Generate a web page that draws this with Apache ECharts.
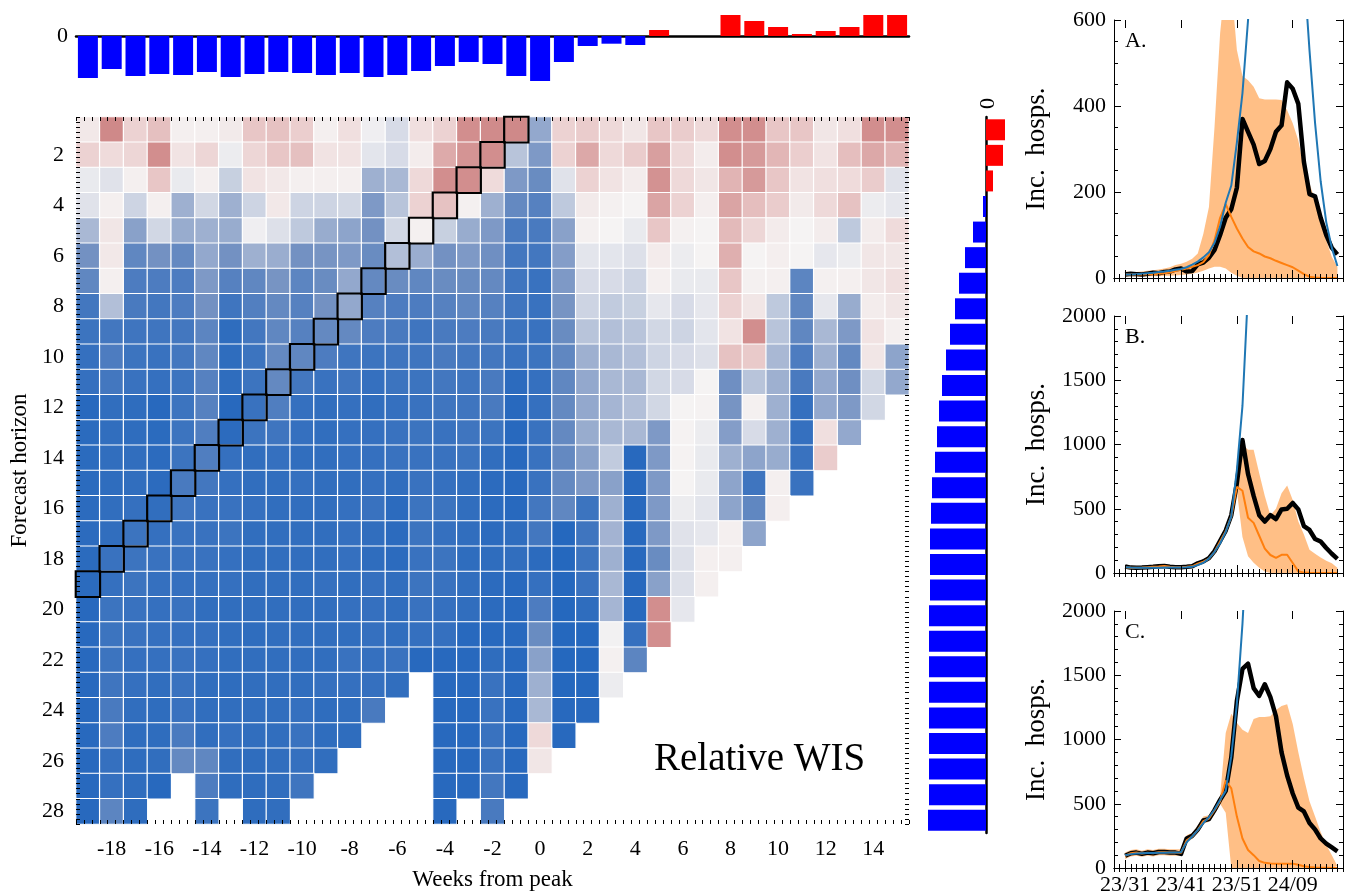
<!DOCTYPE html>
<html>
<head>
<meta charset="utf-8">
<script src="https://cdn.jsdelivr.net/npm/echarts@6.0.0/dist/echarts.min.js"></script>
<style>html,body{margin:0;padding:0;background:#fff}#main{width:1346px;height:896px}</style>
</head>
<body>
<div id="main"></div>
<script>
var chart = echarts.init(document.getElementById('main'));
var serif = "'Liberation Serif', 'Times New Roman', serif";

// weeks from peak (columns) and forecast horizons (rows)
var weekCats = ['-19','-18','-17','-16','-15','-14','-13','-12','-11','-10','-9','-8','-7','-6','-5','-4','-3','-2','-1',
  '0','1','2','3','4','5','6','7','8','9','10','11','12','13','14','15'];
var horizonCats = ['1','2','3','4','5','6','7','8','9','10','11','12','13','14','15','16','17','18','19','20',
  '21','22','23','24','25','26','27','28'];

// relative WIS (log scale, clipped to [-1, 1]); one row per horizon, columns -19..15
var wis = [
  [0.08,0.9,0.25,0.4,0.03,0.03,0.07,0.35,0.38,0.28,0.03,0.15,-0.02,-0.1,0.15,0.25, 0.85,0.88,0.9,-0.35,0.25,0.3,0.2,0.1,0.35,0.3,0.2,0.85,0.85,0.35,0.35,0.1,0.15,0.85,0.85],
  [0.25,0.18,0.22,0.85,0.12,0.22,-0.03,0.22,0.35,0.4,0.12,0.12,-0.06,-0.1,0.05,0.6, 0.8,0.85,-0.2,-0.45,0.25,0.62,0.2,0.3,0.7,0.2,0.05,0.85,0.75,0.48,0.28,0.12,0.42,0.62,0.5],
  [-0.04,-0.07,0.03,0.35,-0.04,0.03,-0.15,0.12,0.08,0.03,0.03,0.03,-0.3,-0.25,0.2,0.85, 0.85,0.18,-0.45,-0.55,-0.07,0.25,0.12,0.05,0.82,0.2,0.1,0.5,0.75,0.35,0.12,0.15,0.18,0.3,-0.07],
  [-0.07,0.03,-0.13,0.03,-0.3,-0.12,-0.3,-0.13,0.08,-0.13,-0.13,-0.12,-0.45,-0.2,0.25,0.38, 0.02,-0.3,-0.58,-0.65,-0.18,0.07,0.02,0.0,0.65,0.25,0.04,0.65,0.42,0.3,0.07,0.2,0.38,-0.03,-0.05],
  [-0.25,0.1,-0.4,-0.12,-0.33,-0.3,-0.33,-0.02,-0.08,-0.18,-0.33,-0.38,-0.5,-0.12,0.02,-0.15, -0.33,-0.45,-0.72,-0.72,-0.4,0.02,0.0,-0.04,0.35,0.02,0.0,0.45,0.22,0.06,0.0,0.05,-0.18,0.05,0.18],
  [-0.5,0.08,-0.6,-0.5,-0.58,-0.35,-0.5,-0.3,-0.32,-0.5,-0.48,-0.45,-0.55,-0.22,-0.32,-0.5, -0.45,-0.52,-0.75,-0.75,-0.42,-0.06,-0.06,-0.08,0.06,-0.03,0.0,0.55,0.0,0.04,0.0,-0.05,-0.03,0.1,0.1],
  [-0.6,0.03,-0.7,-0.7,-0.7,-0.45,-0.65,-0.6,-0.48,-0.62,-0.55,-0.35,-0.58,-0.55,-0.6,-0.55, -0.55,-0.58,-0.78,-0.82,-0.45,-0.1,-0.1,-0.13,0.03,-0.04,-0.04,0.35,0.02,0.03,-0.62,0.02,0.03,0.1,0.15],
  [-0.75,-0.22,-0.72,-0.75,-0.7,-0.5,-0.78,-0.67,-0.58,-0.65,-0.5,-0.35,-0.65,-0.7,-0.7,-0.65, -0.6,-0.65,-0.78,-0.82,-0.48,-0.13,-0.17,-0.15,-0.05,-0.1,-0.05,0.25,0.1,-0.18,-0.6,-0.05,-0.33,0.05,0.1],
  [-0.8,-0.75,-0.78,-0.78,-0.75,-0.62,-0.9,-0.75,-0.6,-0.65,-0.58,-0.58,-0.7,-0.72,-0.78,-0.72, -0.7,-0.72,-0.8,-0.82,-0.55,-0.2,-0.22,-0.2,-0.12,-0.13,-0.06,0.12,0.85,-0.2,-0.6,-0.25,-0.45,0.12,0.03],
  [-0.85,-0.7,-0.8,-0.82,-0.75,-0.6,-0.9,-0.8,-0.58,-0.6,-0.7,-0.78,-0.8,-0.78,-0.78,-0.72, -0.75,-0.75,-0.82,-0.8,-0.6,-0.3,-0.25,-0.22,-0.13,-0.1,-0.08,0.38,0.32,-0.25,-0.7,-0.3,-0.58,0.1,-0.38],
  [-0.85,-0.75,-0.82,-0.85,-0.8,-0.65,-0.9,-0.8,-0.58,-0.75,-0.82,-0.78,-0.85,-0.8,-0.8,-0.75, -0.78,-0.72,-0.92,-0.85,-0.6,-0.35,-0.25,-0.25,-0.12,-0.1,0.0,-0.52,-0.2,-0.3,-0.72,-0.35,-0.52,-0.12,-0.35],
  [-0.95,-0.88,-0.9,-0.95,-0.8,-0.65,-0.95,-0.82,-0.68,-0.85,-0.88,-0.85,-0.88,-0.85,-0.82,-0.78, -0.78,-0.72,-0.95,-0.85,-0.58,-0.35,-0.27,-0.22,-0.12,0.0,0.01,-0.48,0.02,-0.3,-0.85,-0.35,-0.45,-0.12,null],
  [-0.93,-0.88,-0.9,-0.93,-0.8,-0.68,-0.92,-0.8,-0.78,-0.85,-0.88,-0.85,-0.85,-0.82,-0.8,-0.82, -0.78,-0.8,-0.95,-0.82,-0.58,-0.33,-0.25,-0.25,-0.45,0.01,-0.03,-0.42,-0.1,-0.3,-0.85,0.15,-0.35,null,null],
  [-0.93,-0.88,-0.88,-0.92,-0.8,-0.68,-0.85,-0.88,-0.85,-0.88,-0.88,-0.85,-0.85,-0.82,-0.82,-0.82, -0.8,-0.88,-0.95,-0.82,-0.58,-0.4,-0.17,-0.95,-0.45,0.01,-0.04,-0.3,-0.38,-0.33,-0.82,0.3,null,null,null],
  [-0.93,-0.9,-0.88,-0.92,-0.72,-0.75,-0.85,-0.88,-0.88,-0.85,-0.88,-0.88,-0.85,-0.88,-0.82,-0.85, -0.88,-0.92,-0.95,-0.82,-0.58,-0.45,-0.4,-0.95,-0.45,0.0,-0.04,-0.38,-0.78,0.03,-0.82,null,null,null,null],
  [-0.92,-0.88,-0.85,-0.88,-0.78,-0.82,-0.82,-0.85,-0.88,-0.88,-0.88,-0.85,-0.82,-0.92,-0.8,-0.8, -0.88,-0.92,-0.95,-0.75,-0.6,-0.8,-0.3,-0.95,-0.45,-0.03,-0.06,-0.38,-0.6,0.04,null,null,null,null,null],
  [-0.92,-0.88,-0.8,-0.85,-0.82,-0.82,-0.8,-0.88,-0.88,-0.88,-0.88,-0.85,-0.88,-0.92,-0.8,-0.85, -0.88,-0.92,-0.9,-0.75,-0.97,-0.78,-0.28,-0.95,-0.45,-0.07,-0.05,0.03,-0.38,null,null,null,null,null,null],
  [-0.93,-0.82,-0.8,-0.82,-0.82,-0.82,-0.85,-0.88,-0.88,-0.88,-0.88,-0.85,-0.9,-0.92,-0.82,-0.8, -0.9,-0.9,-0.88,-0.92,-0.97,-0.8,-0.3,-0.95,-0.55,-0.08,0.03,0.03,null,null,null,null,null,null,null],
  [-0.93,-0.85,-0.8,-0.85,-0.85,-0.85,-0.85,-0.88,-0.88,-0.88,-0.85,-0.88,-0.85,-0.88,-0.8,-0.82, -0.88,-0.92,-0.95,-0.85,-0.97,-0.82,-0.25,-0.95,-0.4,-0.08,0.03,null,null,null,null,null,null,null,null],
  [-0.95,-0.8,-0.82,-0.85,-0.82,-0.88,-0.88,-0.88,-0.88,-0.88,-0.88,-0.85,-0.85,-0.88,-0.82,-0.85, -0.88,-0.92,-0.95,-0.7,-0.97,-0.9,-0.27,-0.95,0.85,-0.05,null,null,null,null,null,null,null,null,null],
  [-0.95,-0.8,-0.82,-0.85,-0.85,-0.85,-0.88,-0.9,-0.88,-0.88,-0.88,-0.88,-0.85,-0.88,-0.85,-0.85, -0.95,-0.95,-0.95,-0.55,-0.97,-0.97,-0.01,-0.85,0.85,null,null,null,null,null,null,null,null,null,null],
  [-0.95,-0.8,-0.85,-0.85,-0.82,-0.85,-0.88,-0.88,-0.88,-0.88,-0.88,-0.82,-0.85,-0.82,-0.95,-0.95, -0.95,-0.9,-0.95,-0.4,-0.97,-0.97,0.02,-0.62,null,null,null,null,null,null,null,null,null,null,null],
  [-0.95,-0.78,-0.85,-0.88,-0.82,-0.88,-0.9,-0.88,-0.88,-0.88,-0.85,-0.85,-0.85,-0.88,null,-0.95, -0.95,-0.82,-0.95,-0.3,-0.97,-0.97,-0.03,null,null,null,null,null,null,null,null,null,null,null,null],
  [-0.95,-0.72,-0.88,-0.9,-0.82,-0.88,-0.88,-0.88,-0.88,-0.85,-0.9,-0.88,-0.72,null,null,-0.95, -0.95,-0.82,-0.95,-0.25,-0.95,-0.95,null,null,null,null,null,null,null,null,null,null,null,null,null],
  [-0.95,-0.7,-0.9,-0.9,-0.72,-0.88,-0.85,-0.88,-0.88,-0.82,-0.9,-0.9,null,null,null,-0.95, -0.95,-0.82,-0.95,0.2,-0.95,null,null,null,null,null,null,null,null,null,null,null,null,null,null],
  [-0.95,-0.85,-0.9,-0.88,-0.58,-0.6,-0.88,-0.9,-0.88,-0.85,-0.88,null,null,null,null,-0.95, -0.95,-0.82,-0.95,0.1,null,null,null,null,null,null,null,null,null,null,null,null,null,null,null],
  [-0.95,-0.85,-0.9,-0.95,null,-0.7,-0.9,-0.9,-0.88,-0.78,null,null,null,null,null,-0.95, -0.95,-0.75,-0.95,null,null,null,null,null,null,null,null,null,null,null,null,null,null,null,null],
  [-0.95,-0.62,-0.9,null,null,-0.8,null,-0.9,-0.88,null,null,null,null,null,null,-0.95, null,-0.72,null,null,null,null,null,null,null,null,null,null,null,null,null,null,null,null,null]
];

// cells outlined in black: the peak week for each horizon
var peakWeeks = ['-1','-2','-3','-4','-5','-6','-7','-8','-9','-10','-11','-12','-13','-14','-15','-16','-17','-18','-19'];
var peakHorizons = ['1','2','3','4','5','6','7','8','9','10','11','12','13','14','15','16','17','18','19'];

// column and row summaries
var weekScore = [-0.42,-0.33,-0.40,-0.38,-0.39,-0.36,-0.41,-0.38,-0.36,-0.37,-0.39,-0.37,-0.41,-0.39,-0.35,-0.30,-0.26,-0.28,-0.40,
  -0.45,-0.26,-0.10,-0.077,-0.09,0.06,0,0,0.21,0.15,0.09,0.02,0.05,0.09,0.21,0.21];
var horizonScore = [0.19,0.17,0.07,-0.03,-0.13,-0.21,-0.27,-0.31,-0.36,-0.40,-0.44,-0.47,-0.49,-0.51,-0.54,-0.55,
  -0.56,-0.56,-0.56,-0.57,-0.57,-0.57,-0.57,-0.57,-0.57,-0.57,-0.57,-0.58];

// incident hospitalisations, ISO weeks 23/31 .. 24/17 (week index, 53 = 24/01)
var hospWeeks = [31,32,33,34,35,36,37,38,39,40,41,42,43,44,45,46,47,48,49,50,51,52,53,54,55,56,57,58,59,60,61,62,63,64,65,66,67,68,69];

var aObs  = [8,10,9,8,10,12,11,14,15,20,22,15,16,32,36,47,65,100,140,160,210,370,340,310,265,272,300,340,355,455,440,405,270,195,190,140,100,70,55];
var aMed  = [8,8,8,8,9,9,10,11,13,16,19,22,26,30,37,53,88,140,172,142,115,92,72,62,57,50,46,40,35,30,25,17,9,3,1,0,0,0,0];
var aLow  = [4,4,4,4,4,4,4,5,5,6,7,8,10,13,17,22,26,26,22,12,5,0,0,0,0,0,0,0,0,0,0,0,0,0,0,0,0,0,0];
var aHigh = [15,14,14,15,17,18,20,22,25,30,33,38,45,57,103,165,352,569,700,680,530,470,460,445,418,415,415,415,414,390,360,320,258,220,181,127,88,49,26];
var aFit  = [8,8,9,10,11,12,14,15,17,19,21,25,31,38,48,60,82,120,175,215,315,430,600,850,1100,1300,1450,1500,1450,1300,1100,900,720,530,360,225,130,70,28];

var bObs  = [50,42,40,42,45,48,52,55,48,45,45,48,52,75,90,116,170,250,330,450,700,1035,770,600,450,400,450,420,495,500,545,495,365,335,265,245,195,150,110];
var bMed  = [45,40,40,42,45,48,50,55,48,45,45,48,52,72,88,112,165,245,325,440,670,640,430,390,290,190,140,118,142,142,78,13,3,1,0,0,0,0,0];
var bLow  = [35,30,30,32,35,38,40,45,38,35,35,38,42,62,78,102,155,235,315,430,640,280,130,80,40,12,0,0,0,0,0,0,0,0,0,0,0,0,0];
var bHigh = [60,55,52,55,58,62,65,70,62,58,58,62,67,90,105,130,185,265,345,470,720,1000,960,960,776,600,450,500,620,680,569,400,300,181,150,120,95,75,40];
var bFit  = [45,42,40,40,40,40,41,42,42,42,43,44,48,62,80,112,165,230,320,440,800,1300,2200,3500,5000,6500,8000,9000,9500,9800,9900,9800,9500,9000,8400,7700,7000,6200,5400];

var cObs  = [95,115,120,110,120,115,125,125,120,120,110,230,250,300,370,380,450,530,600,860,1300,1550,1590,1400,1340,1430,1330,1180,900,720,580,470,440,350,300,230,190,160,130];
var cMed  = [95,115,120,112,118,115,122,123,120,120,118,215,245,295,365,385,450,520,680,620,400,230,140,100,55,40,35,34,34,34,34,25,14,8,4,2,1,0,0];
var cLow  = [70,90,95,88,95,90,100,100,95,95,95,200,225,275,345,360,420,500,430,0,0,0,0,0,0,0,0,0,0,0,0,0,0,0,0,0,0,0,0];
var cHigh = [120,140,145,135,145,140,150,150,145,145,145,255,275,330,400,410,480,560,1050,1200,1130,1075,1050,1160,1175,1175,1180,1230,1260,1275,1120,900,700,520,400,280,180,100,15];
var cFit  = [100,108,112,114,116,117,118,119,120,121,122,200,245,295,350,395,455,530,600,870,1280,1900,2700,3600,4500,5400,6200,6800,7200,7400,7400,7200,6800,6400,6000,5600,5200,4800,4400];

var weekLabels = [31, 41, 51, 61];

// ---------- build series data ----------
var heatData = [];
wis.forEach(function (row, r) {
  row.forEach(function (v, c) {
    if (v !== null) heatData.push([c, r, v]);
  });
});
var boxData = peakWeeks.map(function (w, i) {
  return [weekCats.indexOf(w), horizonCats.indexOf(peakHorizons[i]), 1];
});
function pairs(arr) { return hospWeeks.map(function (w, i) { return [w, arr[i]]; }); }
function weekName(v) {
  return v <= 52 ? '23/' + v : '24/' + ('0' + (v - 52)).slice(-2);
}
// tick positions (styling only)
function steps(from, to, step) {
  var out = [];
  for (var v = from; v <= to + 1e-9; v += step) out.push(+v.toFixed(4));
  return out;
}

var tickFont = { fontFamily: serif, fontSize: 22, color: '#000' };
var blackLine = { lineStyle: { color: '#000', width: 1 } };
var tickBlack = { color: '#000', width: 1 };

var panels = [
  { name: 'A.', top: 20, height: 258, max: 600, interval: 200, minor: 4, obs: aObs, med: aMed, low: aLow, high: aHigh, fit: aFit },
  { name: 'B.', top: 316, height: 257, max: 2000, interval: 500, minor: 5, obs: bObs, med: bMed, low: bLow, high: bHigh, fit: bFit },
  { name: 'C.', top: 611, height: 257, max: 2000, interval: 500, minor: 5, obs: cObs, med: cMed, low: cLow, high: cHigh, fit: cFit }
];

var grids = [
  { left: 76, top: 117, width: 833, height: 716 },
  { left: 76, top: 11, width: 833, height: 75 },
  { left: 926, top: 117, width: 80, height: 716 }
];
var evenWeek = function (i, v) { return (+v) % 2 === 0; };
var evenRow = function (i) { return i % 2 === 1; };
var xAxes = [
  { type: 'category', gridIndex: 0, data: weekCats, position: 'bottom', z: 10,
    axisLine: { show: false },
    axisTick: { inside: true, alignWithLabel: true, interval: evenWeek, length: 8, lineStyle: tickBlack },
    axisLabel: Object.assign({ margin: 14, interval: evenWeek }, tickFont),
    name: 'Weeks from peak', nameLocation: 'middle', nameGap: 44,
    nameTextStyle: { fontFamily: serif, fontSize: 23, color: '#000' } },
  { type: 'category', gridIndex: 0, data: weekCats, position: 'top', z: 10,
    axisLine: { show: false },
    axisTick: { inside: true, alignWithLabel: true, interval: evenWeek, length: 8, lineStyle: tickBlack },
    axisLabel: { show: false } },
  { type: 'category', gridIndex: 1, data: weekCats,
    axisLine: { onZero: true, lineStyle: { color: '#000', width: 2.5 } },
    axisTick: { show: false }, axisLabel: { show: false } },
  { type: 'value', gridIndex: 2, min: -0.6, max: 0.2, position: 'top',
    axisLine: { show: false }, axisTick: { show: false }, splitLine: { show: false },
    axisLabel: Object.assign({ customValues: [0], rotate: 90, margin: 8 }, tickFont) },
  // minor ticks around the heatmap
  { type: 'value', gridIndex: 0, min: -19.5, max: 15.5, position: 'bottom', z: 10,
    axisLine: { show: false }, splitLine: { show: false }, axisLabel: { show: false },
    axisTick: { inside: true, length: 4, lineStyle: tickBlack, customValues: steps(-19.5, 15.5, 1 / 3) } },
  { type: 'value', gridIndex: 0, min: -19.5, max: 15.5, position: 'top', z: 10,
    axisLine: { show: false }, splitLine: { show: false }, axisLabel: { show: false },
    axisTick: { inside: true, length: 4, lineStyle: tickBlack, customValues: steps(-19.5, 15.5, 1 / 3) } }
];
var yAxes = [
  { type: 'category', gridIndex: 0, data: horizonCats, inverse: true, z: 10,
    axisLine: { show: false },
    axisTick: { inside: true, alignWithLabel: true, interval: evenRow, length: 8, lineStyle: tickBlack },
    axisLabel: Object.assign({ margin: 12, interval: evenRow }, tickFont),
    name: 'Forecast horizon', nameLocation: 'middle', nameGap: 44,
    nameTextStyle: { fontFamily: serif, fontSize: 23, color: '#000' } },
  { type: 'category', gridIndex: 0, data: horizonCats, inverse: true, position: 'right', z: 10,
    axisLine: { show: false },
    axisTick: { inside: true, alignWithLabel: true, interval: evenRow, length: 8, lineStyle: tickBlack },
    axisLabel: { show: false } },
  { type: 'value', gridIndex: 1, min: -0.5, max: 0.25, interval: 0.25,
    axisLine: { show: false }, axisTick: { show: false }, splitLine: { show: false },
    axisLabel: Object.assign({ margin: 8, formatter: function (v) { return Math.abs(v) < 1e-9 ? '0' : ''; } }, tickFont) },
  { type: 'category', gridIndex: 2, data: horizonCats, inverse: true,
    axisLine: { onZero: true, lineStyle: { color: '#000', width: 2.5 } },
    axisTick: { show: false }, axisLabel: { show: false } },
  { type: 'value', gridIndex: 0, min: 0.5, max: 28.5, inverse: true, position: 'left', z: 10,
    axisLine: { show: false }, splitLine: { show: false }, axisLabel: { show: false },
    axisTick: { inside: true, length: 4, lineStyle: tickBlack, customValues: steps(0.5, 28.5, 0.2) } },
  { type: 'value', gridIndex: 0, min: 0.5, max: 28.5, inverse: true, position: 'right', z: 10,
    axisLine: { show: false }, splitLine: { show: false }, axisLabel: { show: false },
    axisTick: { inside: true, length: 4, lineStyle: tickBlack, customValues: steps(0.5, 28.5, 0.2) } }
];

var series = [
  { type: 'heatmap', xAxisIndex: 0, yAxisIndex: 0, data: heatData,
    itemStyle: { borderColor: '#fff', borderWidth: 1.2 }, emphasis: { disabled: true } },
  { type: 'heatmap', xAxisIndex: 0, yAxisIndex: 0, data: boxData, z: 5,
    itemStyle: { color: 'rgba(0,0,0,0)', borderColor: '#000', borderWidth: 2.2 }, emphasis: { disabled: true } },
  { type: 'bar', xAxisIndex: 2, yAxisIndex: 2, data: weekScore, barCategoryGap: '16%',
    itemStyle: { color: function (p) { return p.value >= 0 ? '#ff0000' : '#0000ff'; } } },
  { type: 'bar', xAxisIndex: 3, yAxisIndex: 3, data: horizonScore, barCategoryGap: '18%',
    itemStyle: { color: function (p) { return p.value >= 0 ? '#ff0000' : '#0000ff'; } } }
];
var graphics = [
  { type: 'text', left: 654, top: 740, style: { text: 'Relative WIS', font: '39px ' + serif, fill: '#000' } }
];

panels.forEach(function (p, k) {
  var gi = grids.length;
  grids.push({ left: 1114, top: p.top, width: 229, height: p.height });
  var xi = xAxes.length, yi = yAxes.length;
  var last = k === panels.length - 1;
  xAxes.push({ type: 'value', gridIndex: gi, min: 29, max: 70, interval: 1, position: 'bottom', z: 10,
    axisLine: blackLine, splitLine: { show: false },
    axisTick: { inside: true, length: 4, lineStyle: tickBlack },
    axisLabel: Object.assign({ show: last, margin: 6, showMinLabel: true, showMaxLabel: true,
      formatter: function (v) { return weekLabels.indexOf(v) >= 0 ? weekName(v) : ''; } }, tickFont) });
  xAxes.push({ type: 'value', gridIndex: gi, min: 29, max: 70, interval: 1, position: 'top', z: 10,
    axisLine: blackLine, splitLine: { show: false },
    axisTick: { inside: true, length: 4, lineStyle: tickBlack }, axisLabel: { show: false } });
  // longer ticks at the labelled weeks
  xAxes.push({ type: 'value', gridIndex: gi, min: 29, max: 70, position: 'bottom', z: 10,
    axisLine: { show: false }, splitLine: { show: false }, axisLabel: { show: false },
    axisTick: { inside: true, length: 8, lineStyle: tickBlack, customValues: weekLabels } });
  xAxes.push({ type: 'value', gridIndex: gi, min: 29, max: 70, position: 'top', z: 10,
    axisLine: { show: false }, splitLine: { show: false }, axisLabel: { show: false },
    axisTick: { inside: true, length: 8, lineStyle: tickBlack, customValues: weekLabels } });
  yAxes.push({ type: 'value', gridIndex: gi, min: 0, max: p.max, interval: p.interval, position: 'left', z: 10,
    axisLine: blackLine, splitLine: { show: false },
    axisTick: { inside: true, length: 7, lineStyle: tickBlack },
    minorTick: { show: true, splitNumber: p.minor, length: 4, lineStyle: tickBlack },
    axisLabel: Object.assign({ margin: 8, formatter: function (v) { return String(v); } }, tickFont),
    name: 'Inc.  hosps.', nameLocation: 'middle', nameGap: 64,
    nameTextStyle: { fontFamily: serif, fontSize: 27, color: '#000' } });
  yAxes.push({ type: 'value', gridIndex: gi, min: 0, max: p.max, interval: p.interval, position: 'right', z: 10,
    axisLine: blackLine, splitLine: { show: false },
    axisTick: { inside: true, length: 7, lineStyle: tickBlack },
    minorTick: { show: true, splitNumber: p.minor, length: 4, lineStyle: tickBlack },
    axisLabel: { show: false } });
  // quantile band: upper bound filled orange, lower bound filled white over it
  series.push({ type: 'line', xAxisIndex: xi, yAxisIndex: yi, data: pairs(p.high), symbol: 'none', z: 1,
    lineStyle: { width: 0, opacity: 0 }, areaStyle: { color: 'rgba(255,127,14,0.5)', opacity: 1, origin: 'start' }, silent: true });
  series.push({ type: 'line', xAxisIndex: xi, yAxisIndex: yi, data: pairs(p.low), symbol: 'none', z: 1,
    lineStyle: { width: 0, opacity: 0 }, areaStyle: { color: '#ffffff', opacity: 1, origin: 'start' }, silent: true });
  series.push({ type: 'line', xAxisIndex: xi, yAxisIndex: yi, data: pairs(p.obs), symbol: 'none',
    lineStyle: { color: '#000', width: 4.5, join: 'round' }, z: 3 });
  series.push({ type: 'line', xAxisIndex: xi, yAxisIndex: yi, data: pairs(p.med), symbol: 'none',
    lineStyle: { color: '#ff7f0e', width: 2 }, z: 4 });
  series.push({ type: 'line', xAxisIndex: xi, yAxisIndex: yi, data: pairs(p.fit), symbol: 'none',
    lineStyle: { color: '#1f77b4', width: 2 }, z: 5 });
  graphics.push({ type: 'text', left: 1125, top: p.top + 10, style: { text: p.name, font: '22px ' + serif, fill: '#000' } });
});

var option = {
  animation: false,
  backgroundColor: '#fff',
  grid: grids,
  xAxis: xAxes,
  yAxis: yAxes,
  visualMap: {
    type: 'continuous', min: -1, max: 1, show: false, seriesIndex: 0,
    inRange: { color: ['#2166be', '#4377bf', '#7391c2', '#a9b8d4', '#f5f3f3', '#ecd2d2', '#e1b4b4', '#d69a9a', '#cb7d7d'] }
  },
  series: series,
  graphic: graphics
};

chart.setOption(option);
</script>
</body>
</html>
